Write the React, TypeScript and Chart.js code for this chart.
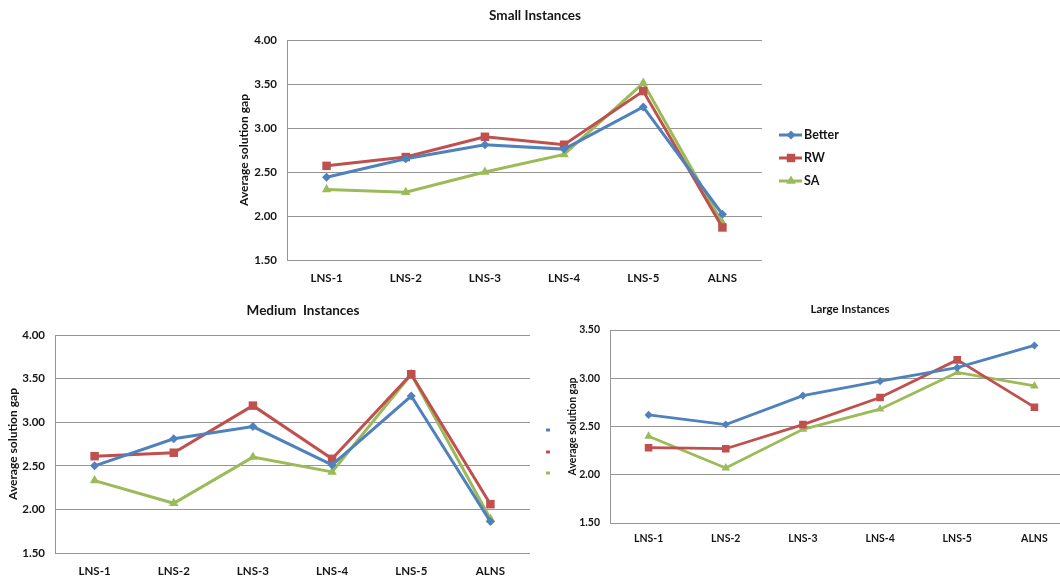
import { useEffect, useRef } from "react";
import { Chart, registerables } from "chart.js";

Chart.register(...registerables);

// Categories (x axis) and y tick values
const categories = ["LNS-1", "LNS-2", "LNS-3", "LNS-4", "LNS-5", "ALNS"];
const yTicksFull = [1.5, 2.0, 2.5, 3.0, 3.5, 4.0];
const yTicksLarge = [1.5, 2.0, 2.5, 3.0, 3.5];

const seriesNames = ["Better", "RW", "SA"];

// Small instances
const smallBetter = [2.44, 2.65, 2.81, 2.76, 3.24, 2.02];
const smallRW = [2.57, 2.67, 2.9, 2.81, 3.42, 1.87];
const smallSA = [2.3, 2.27, 2.5, 2.7, 3.51, 1.92];

// Medium instances
const mediumBetter = [2.5, 2.81, 2.95, 2.51, 3.3, 1.86];
const mediumRW = [2.61, 2.65, 3.19, 2.58, 3.55, 2.06];
const mediumSA = [2.33, 2.07, 2.6, 2.43, 3.55, 1.89];

// Large instances
const largeBetter = [2.62, 2.52, 2.82, 2.97, 3.11, 3.34];
const largeRW = [2.28, 2.27, 2.52, 2.8, 3.19, 2.7];
const largeSA = [2.4, 2.07, 2.47, 2.68, 3.06, 2.92];

const seriesColors = ["#4F81BD", "#C0504D", "#9BBB59"];
const seriesMarkers = ["rectRot", "rect", "triangle"];
const markerRadius = [4.5, 6, 5.5];

const FONT = "Lato, 'Open Sans', 'DejaVu Sans', sans-serif";
const INK = "#151515";
const GRID = "#959595";

type PanelSpec = {
  key: string;
  box: [number, number, number, number]; // canvas left, top, width, height (page px)
  plot: [number, number, number, number]; // plot left, top, right, bottom (page px)
  title: string;
  titleAt: [number, number];
  titleSize: number;
  axisTitle: string;
  axisTitleX: number;
  axisTitleSize: number;
  tickSize: number;
  xTickPad: number;
  legendX: number | null;
  legendY: number[];
  legendSize: number;
  lineWidth: number;
  markerScale: number;
  yTicks: number[];
  data: number[][];
};

const panels: PanelSpec[] = [
  {
    key: "small",
    box: [230, 0, 620, 290],
    plot: [287, 40, 762, 260],
    title: "Small Instances",
    titleAt: [535, 16],
    titleSize: 13.5,
    axisTitle: "Average solution gap",
    axisTitleX: 244,
    axisTitleSize: 12,
    tickSize: 11.5,
    xTickPad: 11,
    legendX: 779,
    legendY: [135, 158, 181],
    legendSize: 12.5,
    lineWidth: 3,
    markerScale: 1,
    yTicks: yTicksFull,
    data: [smallBetter, smallRW, smallSA],
  },
  {
    key: "medium",
    box: [0, 295, 600, 281],
    plot: [55, 335, 530, 553],
    title: "Medium  Instances",
    titleAt: [303, 311],
    titleSize: 13.5,
    axisTitle: "Average solution gap",
    axisTitleX: 13,
    axisTitleSize: 12,
    tickSize: 11.5,
    xTickPad: 11,
    legendX: 546,
    legendY: [430, 452, 473],
    legendSize: 12.5,
    lineWidth: 3,
    markerScale: 1,
    yTicks: yTicksFull,
    data: [mediumBetter, mediumRW, mediumSA],
  },
  {
    key: "large",
    box: [550, 295, 530, 281],
    plot: [610, 330, 1073, 523],
    title: "Large Instances",
    titleAt: [850, 309],
    titleSize: 11.5,
    axisTitle: "Average solution gap",
    axisTitleX: 573,
    axisTitleSize: 10.5,
    tickSize: 10.5,
    xTickPad: 9,
    legendX: null,
    legendY: [],
    legendSize: 11,
    lineWidth: 2.75,
    markerScale: 0.9,
    yTicks: yTicksLarge,
    data: [largeBetter, largeRW, largeSA],
  },
];

function drawMarker(ctx: CanvasRenderingContext2D, kind: string, x: number, y: number, r: number) {
  ctx.beginPath();
  if (kind === "rectRot") {
    ctx.moveTo(x, y - r);
    ctx.lineTo(x + r, y);
    ctx.lineTo(x, y + r);
    ctx.lineTo(x - r, y);
  } else if (kind === "rect") {
    const h = r * Math.SQRT1_2;
    ctx.rect(x - h, y - h, 2 * h, 2 * h);
  } else {
    const s = r * 0.866;
    ctx.moveTo(x, y - r);
    ctx.lineTo(x + s, y + r / 2);
    ctx.lineTo(x - s, y + r / 2);
  }
  ctx.closePath();
  ctx.fill();
}

function PanelChart({ spec }: { spec: PanelSpec }) {
  const ref = useRef<HTMLCanvasElement>(null);

  useEffect(() => {
    const [bx, by, bw, bh] = spec.box;
    const [pl, pt, pr, pb] = spec.plot;

    // Title, rotated axis title and series key drawn over the chart
    const overlay = {
      id: "overlay-" + spec.key,
      afterDraw(chart: any) {
        const ctx: CanvasRenderingContext2D = chart.ctx;
        ctx.save();
        ctx.fillStyle = INK;
        ctx.textAlign = "center";
        ctx.textBaseline = "middle";
        ctx.font = `bold ${spec.titleSize}px ${FONT}`;
        ctx.fillText(spec.title, spec.titleAt[0] - bx, spec.titleAt[1] - by);

        ctx.save();
        ctx.translate(spec.axisTitleX - bx, (pt + pb) / 2 - by);
        ctx.rotate(-Math.PI / 2);
        ctx.font = `bold ${spec.axisTitleSize}px ${FONT}`;
        ctx.fillText(spec.axisTitle, 0, 0);
        ctx.restore();

        if (spec.legendX !== null) {
          const lx = spec.legendX - bx;
          seriesNames.forEach((name, i) => {
            const ly = spec.legendY[i] - by;
            ctx.strokeStyle = seriesColors[i];
            ctx.lineWidth = spec.lineWidth;
            ctx.beginPath();
            ctx.moveTo(lx, ly);
            ctx.lineTo(lx + 23, ly);
            ctx.stroke();
            ctx.fillStyle = seriesColors[i];
            drawMarker(ctx, seriesMarkers[i], lx + 12, ly, markerRadius[i]);
            ctx.fillStyle = INK;
            ctx.textAlign = "left";
            ctx.font = `bold ${spec.legendSize}px ${FONT}`;
            ctx.fillText(name, lx + 25, ly);
          });
        }
        ctx.restore();
      },
    };

    const yt = spec.yTicks;
    const chart = new Chart(ref.current!, {
      type: "line",
      data: {
        labels: categories,
        datasets: spec.data.map((values, i) => ({
          label: seriesNames[i],
          data: values,
          borderColor: seriesColors[i],
          backgroundColor: seriesColors[i],
          borderWidth: spec.lineWidth,
          pointStyle: seriesMarkers[i] as any,
          pointRadius: markerRadius[i] * spec.markerScale,
          pointBackgroundColor: seriesColors[i],
          pointBorderColor: seriesColors[i],
          pointBorderWidth: 0,
          tension: 0,
          fill: false,
        })),
      },
      options: {
        responsive: false,
        animation: false,
        devicePixelRatio: 1,
        layout: {
          padding: { left: 0, top: pt - by, right: bx + bw - pr, bottom: 0 },
        },
        plugins: {
          legend: { display: false },
          title: { display: false },
          tooltip: { enabled: false },
        },
        scales: {
          x: {
            type: "category",
            offset: true,
            grid: { display: false, drawTicks: false },
            border: { display: false },
            ticks: {
              color: INK,
              font: { family: FONT, size: spec.tickSize, weight: "bold" },
              padding: spec.xTickPad,
              maxRotation: 0,
              autoSkip: false,
            },
            afterFit(scale: any) {
              scale.height = by + bh - pb;
            },
          },
          y: {
            min: yt[0],
            max: yt[yt.length - 1],
            grid: { color: GRID, lineWidth: 1, drawTicks: false },
            border: { display: true, color: GRID, width: 1 },
            ticks: {
              color: INK,
              font: { family: FONT, size: spec.tickSize, weight: "bold" },
              padding: 10,
              callback: (v: any) => Number(v).toFixed(2),
            },
            afterBuildTicks(scale: any) {
              scale.ticks = yt.map((v) => ({ value: v }));
            },
            afterFit(scale: any) {
              scale.width = pl - bx;
            },
          },
        },
      },
      plugins: [overlay],
    } as any);

    return () => chart.destroy();
  }, [spec]);

  const [bx, by, bw, bh] = spec.box;
  return (
    <canvas
      ref={ref}
      width={bw}
      height={bh}
      style={{ position: "absolute", left: bx, top: by, width: bw, height: bh, background: "#fff" }}
    />
  );
}

export default function App() {
  return (
    <div
      style={{
        position: "fixed",
        left: 0,
        top: 0,
        width: 1060,
        height: 576,
        overflow: "hidden",
        background: "#fff",
      }}
    >
      {panels.map((p) => (
        <PanelChart key={p.key} spec={p} />
      ))}
    </div>
  );
}
